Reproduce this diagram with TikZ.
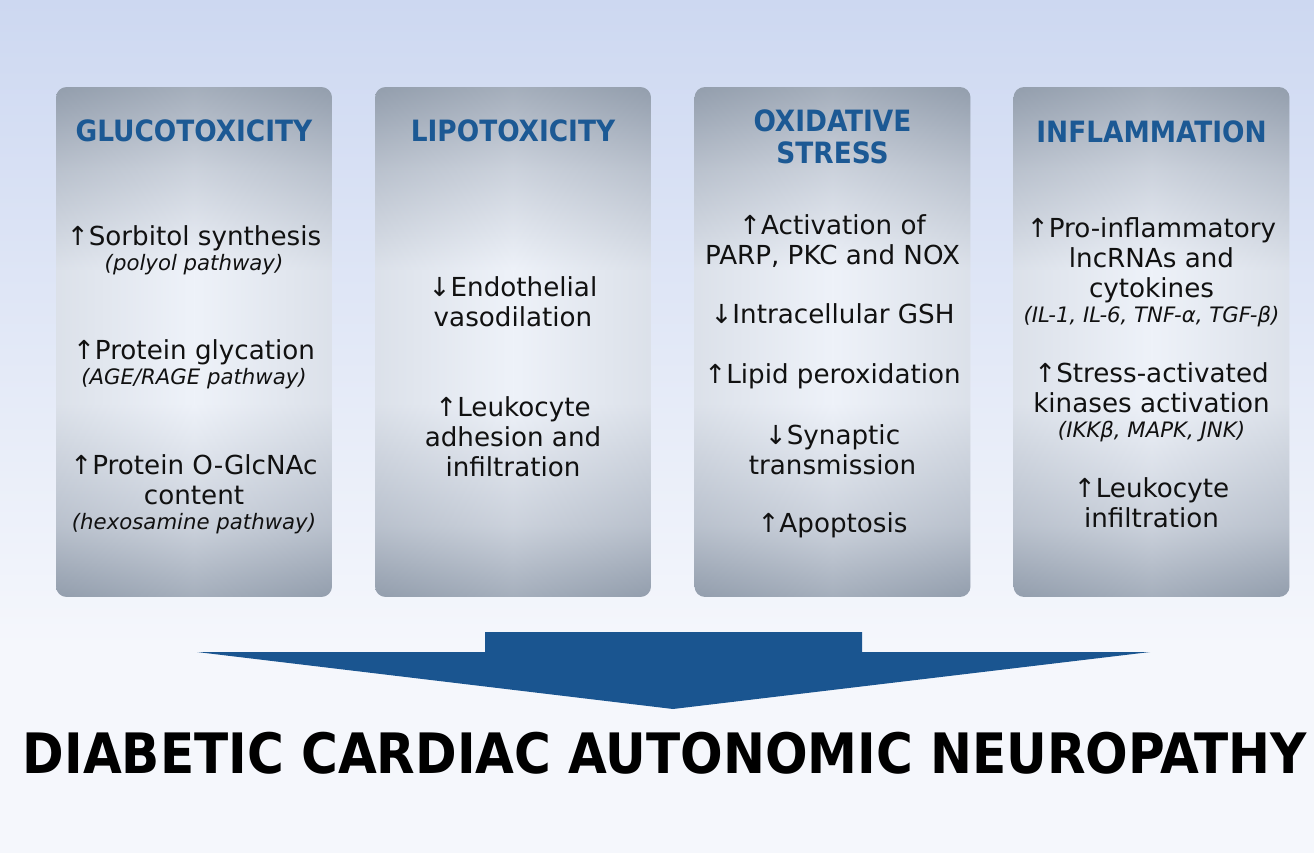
\documentclass[tikz,border=0pt]{standalone}
\usepackage{fontspec}
\setmainfont{DejaVu Sans}
\newfontfamily\condfont{DejaVu Sans Condensed}[BoldFont={DejaVu Sans Condensed Bold}]
\usetikzlibrary{positioning}
\definecolor{ttlblue}{HTML}{1C5994}
\definecolor{arrblue}{HTML}{1A5590}
\definecolor{ink}{HTML}{111111}
\definecolor{pnldark}{HTML}{939EAD}
\definecolor{pnlmid}{HTML}{C3CAD5}
\definecolor{pnllight}{HTML}{EEF2F9}
\definecolor{bgtop}{HTML}{CDD8F1}
\definecolor{bgbot}{HTML}{F5F7FC}
% tikz maps 25bp..75bp of a shading onto the path
\pgfdeclareverticalshading{panelfill}{100bp}{color(0bp)=(pnldark); color(25bp)=(pnldark); color(32bp)=(pnlmid);
  color(44bp)=(pnllight); color(57bp)=(pnllight); color(67bp)=(pnlmid); color(75bp)=(pnldark); color(100bp)=(pnldark)}
\pgfdeclareverticalshading{backfill}{100bp}{color(0bp)=(bgbot); color(37bp)=(bgbot); color(75bp)=(bgtop); color(100bp)=(bgtop)}
\newcommand\via[1]{{\fontsize{12.1}{14.5}\selectfont\itshape #1}}
\tikzset{
  pnl/.style={shade, shading=panelfill, rounded corners=6pt, minimum width=5.52cm, minimum height=10.2cm,
              inner sep=0pt, path picture={\shade[left color=pnldark, right color=pnldark, middle color=pnllight, opacity=0.2]
              (path picture bounding box.south west) rectangle (path picture bounding box.north east);}},
  ttl/.style={text=ttlblue, font=\condfont\bfseries\fontsize{16.7}{18.2}\selectfont, align=center, inner sep=0pt},
  itm/.style={text=ink, font=\fontsize{14.9}{17.1}\selectfont, align=center, inner sep=0pt},
  bigarr/.style={fill=arrblue, draw=none},
}

\begin{document}
\begin{tikzpicture}[x=0.02cm, y=-0.02cm]
  \useasboundingbox (0,0) rectangle (1314,852);
  \shade[shading=backfill] (0,0) rectangle (1314,852);
  \node[pnl] (glu) at (194,342) {};
  \node[pnl] (lip) at (513,342) {};
  \node[pnl] (oxi) at (832.5,342) {};
  \node[pnl] (inf) at (1151.5,342) {};
  \node[ttl] (glut) at (194,131) {GLUCOTOXICITY};
  \node[ttl] (lipt) at (513,131) {LIPOTOXICITY};
  \node[ttl] (oxit) at (832.5,137) {OXIDATIVE\\STRESS};
  \node[ttl] (inft) at (1151.5,132) {INFLAMMATION};
  \node[itm] (glua) at (194,250) {↑Sorbitol synthesis\\[-3pt]\via{(polyol pathway)}};
  \node[itm] (glub) at (194,364) {↑Protein glycation\\[-3pt]\via{(AGE/RAGE pathway)}};
  \node[itm] (gluc) at (194,494) {↑Protein O-GlcNAc\\content\\[-3pt]\via{(hexosamine pathway)}};
  \node[itm] (lipa) at (513,302) {↓Endothelial\\vasodilation};
  \node[itm] (lipb) at (513,437) {↑Leukocyte\\adhesion and\\infiltration};
  \node[itm] (oxia) at (832.5,241) {↑Activation of\\PARP, PKC and NOX};
  \node[itm] (oxib) at (832.5,314) {↓Intracellular GSH};
  \node[itm] (oxic) at (832.5,376) {↑Lipid peroxidation};
  \node[itm] (oxid) at (832.5,450) {↓Synaptic\\transmission};
  \node[itm] (oxie) at (832.5,525) {↑Apoptosis};
  \node[itm] (infa) at (1151.5,272) {↑Pro-inflammatory\\lncRNAs and\\cytokines\\[-3pt]\via{(IL-1, IL-6, TNF-α, TGF-β)}};
  \node[itm] (infb) at (1151.5,402) {↑Stress-activated\\kinases activation\\[-3pt]\via{(IKKβ, MAPK, JNK)}};
  \node[itm] (infc) at (1151.5,503) {↑Leukocyte\\infiltration};
  \fill[bigarr] (485,632) -- (862,632) -- (862,652) -- (1150,652) -- (673,709) -- (197,652) -- (485,652) -- cycle;
  \node[text=black, font=\condfont\bfseries\fontsize{31.7}{36}\selectfont, inner sep=0pt] (dcan) at (665,753)
    {DIABETIC CARDIAC AUTONOMIC NEUROPATHY};
\end{tikzpicture}
\end{document}
